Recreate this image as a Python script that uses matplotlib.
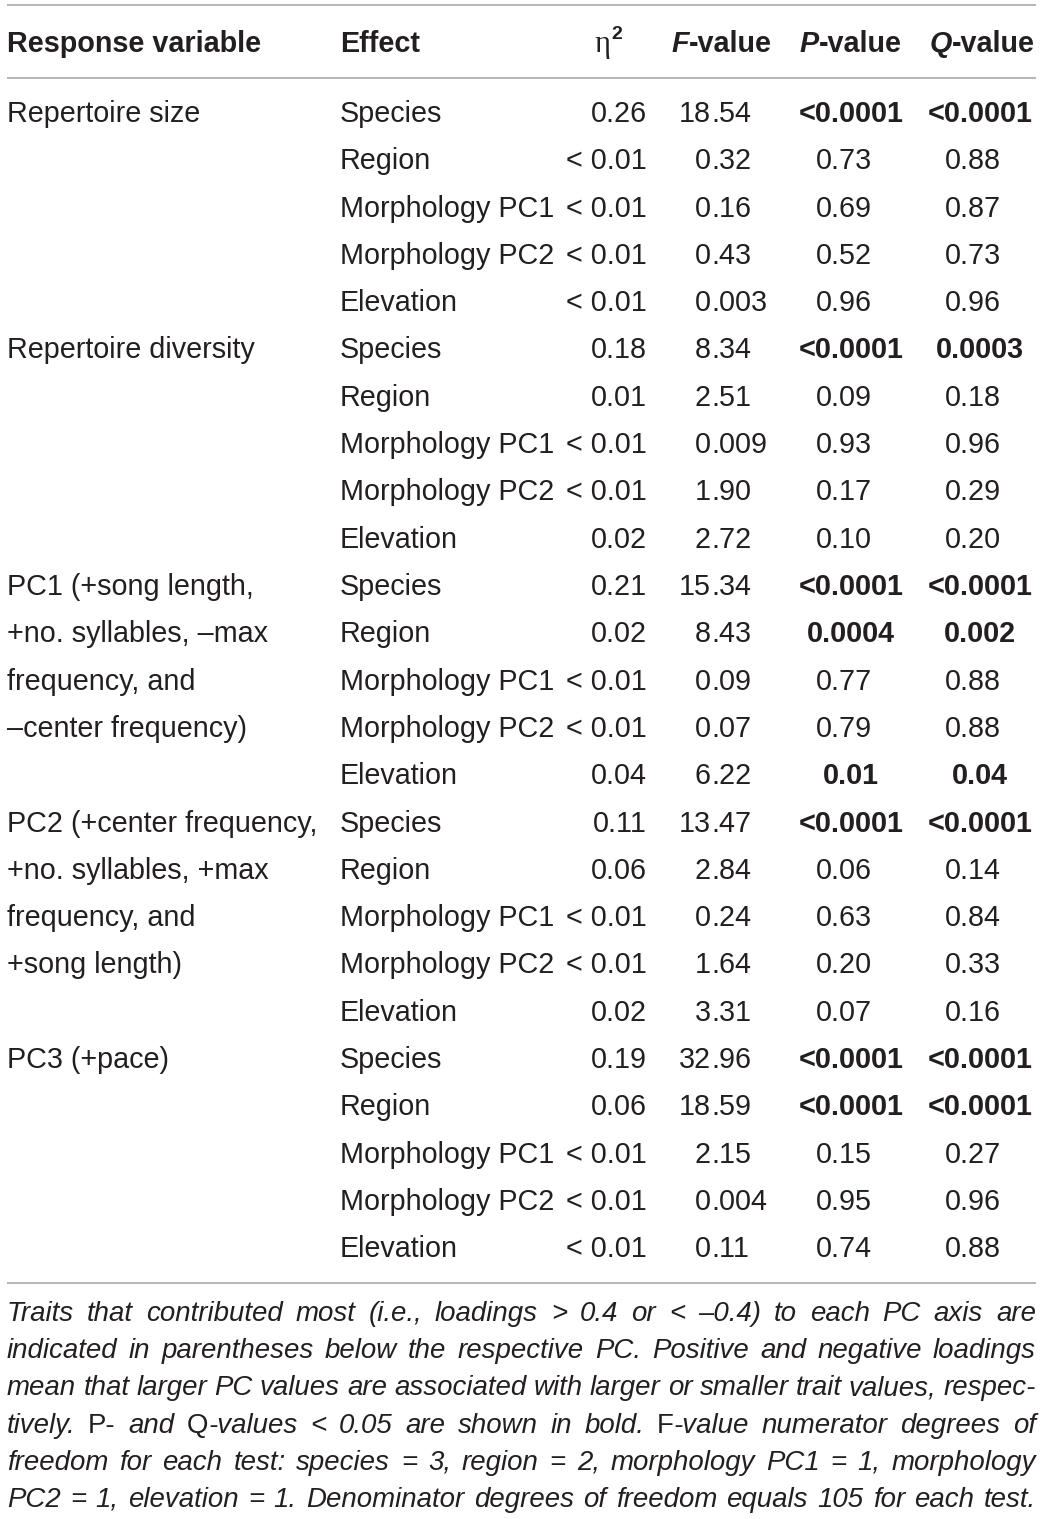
import matplotlib
matplotlib.use("Agg")
import matplotlib.pyplot as plt
from matplotlib import font_manager
from matplotlib.font_manager import FontProperties

# ---- table data ----
groups = [
    ["Repertoire size"],
    ["Repertoire diversity"],
    ["PC1 (+song length,", "+no. syllables, –max", "frequency, and", "–center frequency)"],
    ["PC2 (+center frequency,", "+no. syllables, +max", "frequency, and", "+song length)"],
    ["PC3 (+pace)"],
]
effects = ["Species", "Region", "Morphology PC1", "Morphology PC2", "Elevation"]

eta2 = [
    ["0.26", "< 0.01", "< 0.01", "< 0.01", "< 0.01"],
    ["0.18", "0.01", "< 0.01", "< 0.01", "0.02"],
    ["0.21", "0.02", "< 0.01", "< 0.01", "0.04"],
    ["0.11", "0.06", "< 0.01", "< 0.01", "0.02"],
    ["0.19", "0.06", "< 0.01", "< 0.01", "< 0.01"],
]
f_val = [
    ["18.54", "0.32", "0.16", "0.43", "0.003"],
    ["8.34", "2.51", "0.009", "1.90", "2.72"],
    ["15.34", "8.43", "0.09", "0.07", "6.22"],
    ["13.47", "2.84", "0.24", "1.64", "3.31"],
    ["32.96", "18.59", "2.15", "0.004", "0.11"],
]
p_val = [
    ["<0.0001", "0.73", "0.69", "0.52", "0.96"],
    ["<0.0001", "0.09", "0.93", "0.17", "0.10"],
    ["<0.0001", "0.0004", "0.77", "0.79", "0.01"],
    ["<0.0001", "0.06", "0.63", "0.20", "0.07"],
    ["<0.0001", "<0.0001", "0.15", "0.95", "0.74"],
]
q_val = [
    ["<0.0001", "0.88", "0.87", "0.73", "0.96"],
    ["0.0003", "0.18", "0.96", "0.29", "0.20"],
    ["<0.0001", "0.002", "0.88", "0.88", "0.04"],
    ["<0.0001", "0.14", "0.84", "0.33", "0.16"],
    ["<0.0001", "<0.0001", "0.27", "0.96", "0.88"],
]

# caption lines, {} marks upright text
caption = [
    "Traits that contributed most (i.e., loadings > 0.4 or < –0.4) to each PC axis are",
    "indicated in parentheses below the respective PC. Positive and negative loadings",
    "mean that larger PC values are associated with larger or smaller trait values, respec-",
    "tively. {P-} and {Q}-values < 0.05 are shown in bold. {F}-value numerator degrees of",
    "freedom for each test: species = 3, region = 2, morphology PC1 = 1, morphology",
    "PC2 = 1, elevation = 1. Denominator degrees of freedom equals 105 for each test.",
]

W, H = 1043, 1519
INK = "#231f20"
RULE = "#a7a9ac"
FS = 20.7

SANS = "Liberation Sans"
SERIF = "Liberation Serif"
FAMS = ("Noto Sans", "Roboto", "Open Sans", "DejaVu Sans", "Liberation Sans")


def regular(f):
    return f.weight in (400, "normal", "regular", "book")


def face(fam, stretch, style):
    for f in font_manager.fontManager.ttflist:
        if f.name == fam and str(f.stretch) == stretch and f.style == style and regular(f):
            return f.fname
    return None


def pick_caption_faces():
    # a condensed regular italic + upright pair, picked by file
    for stretch in ["semi-condensed", "condensed"]:
        for fam in FAMS:
            fi, fn = face(fam, stretch, "italic"), face(fam, stretch, "normal")
            if fi and fn:
                return FontProperties(fname=fi), FontProperties(fname=fn)
    return (FontProperties(family=SANS, style="italic"), FontProperties(family=SANS))


CAP_I, CAP_N = pick_caption_faces()

fig = plt.figure(figsize=(W / 100, H / 100), dpi=100)
ax = fig.add_axes([0, 0, 1, 1])
ax.set_xlim(0, W)
ax.set_ylim(H, 0)
ax.axis("off")
renderer = fig.canvas.get_renderer()


def width_of(s, **kw):
    t = ax.text(0, 0, s, **kw)
    w = t.get_window_extent(renderer).width
    t.remove()
    return w


def pieces_at(x, y, pieces, ha="left"):
    # pieces: list of (text, kwargs); laid side by side
    widths = [width_of(s, **kw) for s, kw in pieces]
    total = sum(widths)
    x0 = x - total if ha == "right" else (x - total / 2 if ha == "center" else x)
    for (s, kw), w in zip(pieces, widths):
        ax.text(x0, y, s, ha="left", va="baseline", **kw)
        x0 += w


def is_bold(s):
    return s.startswith("<") or float(s) < 0.05


L, R = 7, 1036
for yy in [5, 78, 1283]:
    ax.plot([L, R], [yy, yy], color=RULE, lw=1.2, solid_capstyle="butt")

# header
hb = dict(family=SANS, fontsize=FS, fontweight="bold", color=INK)
hbi = dict(family=SANS, fontsize=FS, fontweight="bold", style="italic", color=INK)
HY = 52
ax.text(L, HY, "Response variable", va="baseline", **hb)
ax.text(340, HY, "Effect", va="baseline", **hb)
ax.text(610, HY, "η", ha="right", va="baseline", family=SERIF, fontsize=22, color=INK)
ax.text(611, HY - 13, "2", ha="left", va="baseline", family=SANS, fontsize=14,
        fontweight="bold", color=INK)
pieces_at(722, HY, [("F", hbi), ("-value", hb)], ha="center")
pieces_at(851, HY, [("P", hbi), ("-value", hb)], ha="center")
pieces_at(982, HY, [("Q", hbi), ("-value", hb)], ha="center")

# body
body = dict(family=SANS, fontsize=FS, color=INK)
bold = dict(family=SANS, fontsize=FS, color=INK, fontweight="bold")
Y0, DY = 122, 47.3
F_DEC = 711
row = 0
for g in range(len(groups)):
    for k, line in enumerate(groups[g]):
        ax.text(L, Y0 + DY * (row + k), line, va="baseline", **body)
    for e in range(len(effects)):
        y = Y0 + DY * row
        ax.text(340, y, effects[e], va="baseline", **body)
        ax.text(647, y, eta2[g][e], ha="right", va="baseline", **body)
        ip, fp = f_val[g][e].split(".")
        ax.text(F_DEC, y, ip, ha="right", va="baseline", **body)
        ax.text(F_DEC, y, "." + fp, ha="left", va="baseline", **body)
        p = p_val[g][e]
        ax.text(851 if is_bold(p) else 844, y, p, ha="center", va="baseline",
                **(bold if is_bold(p) else body))
        q = q_val[g][e]
        ax.text(980 if is_bold(q) else 973, y, q, ha="center", va="baseline",
                **(bold if is_bold(q) else body))
        row += 1


# caption, justified to the rule width
def split_token(tok):
    out, buf, up = [], "", False
    for ch in tok:
        if ch == "{":
            if buf:
                out.append((buf, up))
            buf, up = "", True
        elif ch == "}":
            if buf:
                out.append((buf, up))
            buf, up = "", False
        else:
            buf += ch
    if buf:
        out.append((buf, up))
    return out


tokens = [[split_token(t) for t in line.split(" ")] for line in caption]


def cap_kw(up, fs):
    fp = (CAP_N if up else CAP_I).copy()
    fp.set_size(fs)
    return dict(fontproperties=fp, color=INK)


def tok_w(tok, fs):
    return sum(width_of(s, **cap_kw(up, fs)) for s, up in tok)


cfs = 20.5
space = 0.26 * cfs * 100 / 72
widest = max(sum(tok_w(t, cfs) for t in line) + space * (len(line) - 1) for line in tokens)
if widest > R - L:
    cfs *= (R - L) / widest

CY0, CDY = 1321, 37.2
for i, line in enumerate(tokens):
    ws = [tok_w(t, cfs) for t in line]
    gap = (R - L - sum(ws)) / (len(line) - 1)
    x = L
    for t, w in zip(line, ws):
        pieces_at(x, CY0 + CDY * i, [(s, cap_kw(up, cfs)) for s, up in t])
        x += w + gap

fig.savefig("out.png", dpi=100)
